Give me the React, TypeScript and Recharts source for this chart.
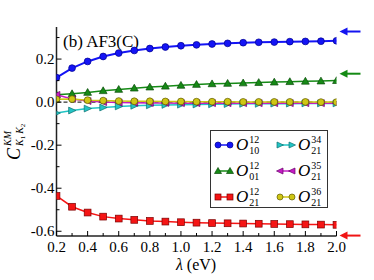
import React from "react";
import { LineChart, Line, XAxis, YAxis, ReferenceLine, ReferenceDot, Legend, Customized } from "recharts";

const SERIF = '"Liberation Serif", "DejaVu Serif", serif';

// lambda (eV)
const lambda = [0.2, 0.3, 0.4, 0.5, 0.6, 0.7, 0.8, 0.9, 1.0, 1.1, 1.2, 1.3, 1.4, 1.5, 1.6, 1.7, 1.8, 1.9, 2.0];

// C^{KM}_{K1K2} values
const o10_12 = [0.114, 0.158, 0.189, 0.212, 0.228, 0.24, 0.249, 0.256, 0.262, 0.266, 0.27, 0.273, 0.276, 0.278, 0.279, 0.281, 0.282, 0.283, 0.285];
const o01_12 = [0.034, 0.039, 0.045, 0.053, 0.059, 0.065, 0.07, 0.074, 0.078, 0.082, 0.085, 0.087, 0.089, 0.091, 0.093, 0.095, 0.097, 0.098, 0.1];
const o21_12 = [-0.436, -0.486, -0.513, -0.532, -0.541, -0.547, -0.552, -0.555, -0.558, -0.56, -0.562, -0.563, -0.564, -0.565, -0.566, -0.567, -0.568, -0.569, -0.57];
const o21_34 = [-0.051, -0.039, -0.03, -0.025, -0.02, -0.017, -0.015, -0.013, -0.012, -0.011, -0.01, -0.009, -0.008, -0.008, -0.007, -0.007, -0.006, -0.006, -0.006];
const o21_35 = [0.034, 0.015, 0.005, 0.0, -0.002, -0.003, -0.004, -0.004, -0.005, -0.005, -0.005, -0.005, -0.005, -0.005, -0.005, -0.005, -0.005, -0.005, -0.005];
const o21_36 = [0.013, 0.014, 0.009, 0.007, 0.005, 0.004, 0.004, 0.003, 0.003, 0.002, 0.002, 0.002, 0.001, 0.001, 0.001, 0.001, 0.001, 0.0, 0.0];

const xTicks = [0.2, 0.3, 0.4, 0.5, 0.6, 0.7, 0.8, 0.9, 1.0, 1.1, 1.2, 1.3, 1.4, 1.5, 1.6, 1.7, 1.8, 1.9, 2.0];
const yTicks = [-0.6, -0.5, -0.4, -0.3, -0.2, -0.1, 0.0, 0.1, 0.2, 0.3];

// arrows on the right edge (limit values)
const arrowLevels = [0.328, 0.132, -0.62];
const arrowColors = ["#1414f0", "#148a14", "#f01414"];

const SERIES = [
  { key: "o10", sup: "12", sub: "10", values: o10_12, color: "#1414f5", edge: "#00008c", shape: "circle", width: 2 },
  { key: "o01", sup: "12", sub: "01", values: o01_12, color: "#168a16", edge: "#0a4a0a", shape: "up", width: 1.5 },
  { key: "o21", sup: "12", sub: "21", values: o21_12, color: "#f51414", edge: "#7a0000", shape: "square", width: 1.5 },
  { key: "o34", sup: "34", sub: "21", values: o21_34, color: "#22c4c4", edge: "#0e7070", shape: "right", width: 1.5 },
  { key: "o35", sup: "35", sub: "21", values: o21_35, color: "#c41cc4", edge: "#6a006a", shape: "left", width: 1.5 },
  { key: "o36", sup: "36", sub: "21", values: o21_36, color: "#cfc614", edge: "#5e5a00", shape: "circle", width: 1.5 },
];

const data = lambda.map((x, i) => {
  const row: any = { x };
  SERIES.forEach((s) => (row[s.key] = s.values[i]));
  return row;
});

function Marker({ shape, cx, cy, fill, edge, s = 3.4 }: any) {
  if (cx == null || cy == null) return null;
  switch (shape) {
    case "square":
      return <rect x={cx - s} y={cy - s} width={2 * s} height={2 * s} fill={fill} stroke={edge} strokeWidth={0.7} />;
    case "up":
      return <polygon points={`${cx},${cy - s - 0.5} ${cx - s - 0.5},${cy + s - 0.5} ${cx + s + 0.5},${cy + s - 0.5}`} fill={fill} stroke={edge} strokeWidth={0.7} />;
    case "right":
      return <polygon points={`${cx + s + 0.5},${cy} ${cx - s},${cy - s} ${cx - s},${cy + s}`} fill={fill} stroke={edge} strokeWidth={0.7} />;
    case "left":
      return <polygon points={`${cx - s - 0.5},${cy} ${cx + s},${cy - s} ${cx + s},${cy + s}`} fill={fill} stroke={edge} strokeWidth={0.7} />;
    default:
      return <circle cx={cx} cy={cy} r={s} fill={fill} stroke={edge} strokeWidth={0.7} />;
  }
}

const isMajor = (v: number) => Math.round(v * 10) % 2 === 0;

const BottomTick = (p: any) => {
  const v = p.payload.value;
  const major = isMajor(v);
  return (
    <g>
      <line x1={p.x} x2={p.x} y1={p.y} y2={p.y - (major ? 5 : 3)} stroke="#000" />
      {major && (
        <text x={p.x} y={p.y + 16} textAnchor="middle" fontFamily={SERIF} fontSize={15} fill="#000">
          {v.toFixed(1)}
        </text>
      )}
    </g>
  );
};

const TopTick = (p: any) => {
  const major = isMajor(p.payload.value);
  return <line x1={p.x} x2={p.x} y1={p.y} y2={p.y + (major ? 5 : 3)} stroke="#000" />;
};

const LeftTick = (p: any) => {
  const v = p.payload.value;
  const major = isMajor(v);
  return (
    <g>
      <line x1={p.x} x2={p.x + (major ? 5 : 3)} y1={p.y} y2={p.y} stroke="#000" />
      {major && (
        <text x={p.x - 2} y={p.y + 5} textAnchor="end" fontFamily={SERIF} fontSize={15} fill="#000">
          {v.toFixed(1)}
        </text>
      )}
    </g>
  );
};

const RightTick = (p: any) => {
  const major = isMajor(p.payload.value);
  return <line x1={p.x} x2={p.x - (major ? 5 : 3)} y1={p.y} y2={p.y} stroke="#000" />;
};

const Arrow = (color: string) => (p: any) => (
  <g>
    <line x1={p.cx + 9} x2={p.cx + 24} y1={p.cy} y2={p.cy} stroke={color} strokeWidth={2} />
    <polygon points={`${p.cx + 3},${p.cy} ${p.cx + 11},${p.cy - 4} ${p.cx + 11},${p.cy + 4}`} fill={color} />
  </g>
);

const LegendBox = () => (
  <div style={{ width: 118, height: 78, border: "1px solid #333", background: "#fff", position: "relative", boxSizing: "border-box", fontFamily: SERIF }}>
    {SERIES.map((s, i) => {
      const col = Math.floor(i / 3);
      const row = i % 3;
      return (
        <div key={s.key} style={{ position: "absolute", left: 3 + col * 62, top: 2 + row * 26, height: 24, display: "flex", alignItems: "center" }}>
          <svg width={20} height={12}>
            <line x1={4} x2={16} y1={6} y2={6} stroke={s.color} strokeWidth={1.5} />
            <Marker shape={s.shape} cx={4} cy={6} fill={s.color} edge={s.edge} s={3} />
            <Marker shape={s.shape} cx={16} cy={6} fill={s.color} edge={s.edge} s={3} />
          </svg>
          <span style={{ fontStyle: "italic", fontSize: 17, marginLeft: 2, lineHeight: "20px" }}>O</span>
          <span style={{ display: "inline-flex", flexDirection: "column", fontSize: 10, lineHeight: "11px", marginLeft: 1 }}>
            <span>{s.sup}</span>
            <span>{s.sub}</span>
          </span>
        </div>
      );
    })}
  </div>
);

const Title = () => (
  <text x={63} y={47} fontFamily={SERIF} fontSize={17} fill="#000">
    (b) AF3(C)
  </text>
);

const YTitle = () => (
  <g transform="translate(20,140) rotate(-90)" fontFamily={SERIF} fontStyle="italic" fill="#000">
    <text x={-20} y={0} fontSize={18}>C</text>
    <text x={-6} y={-9} fontSize={10}>KM</text>
    <text x={-6} y={3} fontSize={10}>
      K<tspan fontSize={7} dy={2} fontStyle="normal">1</tspan>
      <tspan dy={-2} dx={2}>K</tspan>
      <tspan fontSize={7} dy={2} fontStyle="normal">2</tspan>
    </text>
  </g>
);

const XTitle = () => (
  <text x={196} y={270} textAnchor="middle" fontFamily={SERIF} fontSize={16} fill="#000">
    <tspan fontStyle="italic">λ</tspan> (eV)
  </text>
);

export default function App() {
  const axisLine = { stroke: "#222", strokeWidth: 1.5 };
  return (
    <div style={{ position: "absolute", left: 0, top: 0, width: 374, height: 280, background: "#fff" }}>
      <LineChart width={374} height={280} data={data} margin={{ top: 27, right: 37.5, left: 0, bottom: 0 }}>
        <XAxis dataKey="x" type="number" domain={[0.2, 2.0]} ticks={xTicks} allowDataOverflow height={44} axisLine={axisLine} tickLine={false} tickSize={0} tickMargin={0} tick={BottomTick} interval={0} />
        <XAxis xAxisId="top" dataKey="x" type="number" orientation="top" domain={[0.2, 2.0]} ticks={xTicks} allowDataOverflow height={0} axisLine={axisLine} tickLine={false} tickSize={0} tickMargin={0} tick={TopTick} interval={0} />
        <YAxis type="number" domain={[-0.622, 0.349]} ticks={yTicks} allowDataOverflow width={56.5} axisLine={axisLine} tickLine={false} tickSize={0} tickMargin={0} tick={LeftTick} interval={0} />
        <YAxis yAxisId="right" orientation="right" type="number" domain={[-0.622, 0.349]} ticks={yTicks} allowDataOverflow width={0} axisLine={axisLine} tickLine={false} tickSize={0} tickMargin={0} tick={RightTick} interval={0} />
        <ReferenceLine y={0} stroke="#000" strokeWidth={1} strokeDasharray="4 3" />
        {SERIES.map((s) => (
          <Line
            key={s.key}
            dataKey={s.key}
            stroke={s.color}
            strokeWidth={s.width}
            isAnimationActive={false}
            dot={(p: any) => <Marker key={`${s.key}-${p.index}`} shape={s.shape} cx={p.cx} cy={p.cy} fill={s.color} edge={s.edge} />}
            activeDot={false}
          />
        ))}
        {arrowLevels.map((v, i) => (
          <ReferenceDot key={`arrow-${i}`} x={2.0} y={v} ifOverflow="visible" shape={Arrow(arrowColors[i])} />
        ))}
        <Legend align="center" verticalAlign="middle" wrapperStyle={{ left: 210, top: 130, width: 118, height: 78 }} content={LegendBox} />
        <Customized component={Title} />
        <Customized component={YTitle} />
        <Customized component={XTitle} />
      </LineChart>
    </div>
  );
}
